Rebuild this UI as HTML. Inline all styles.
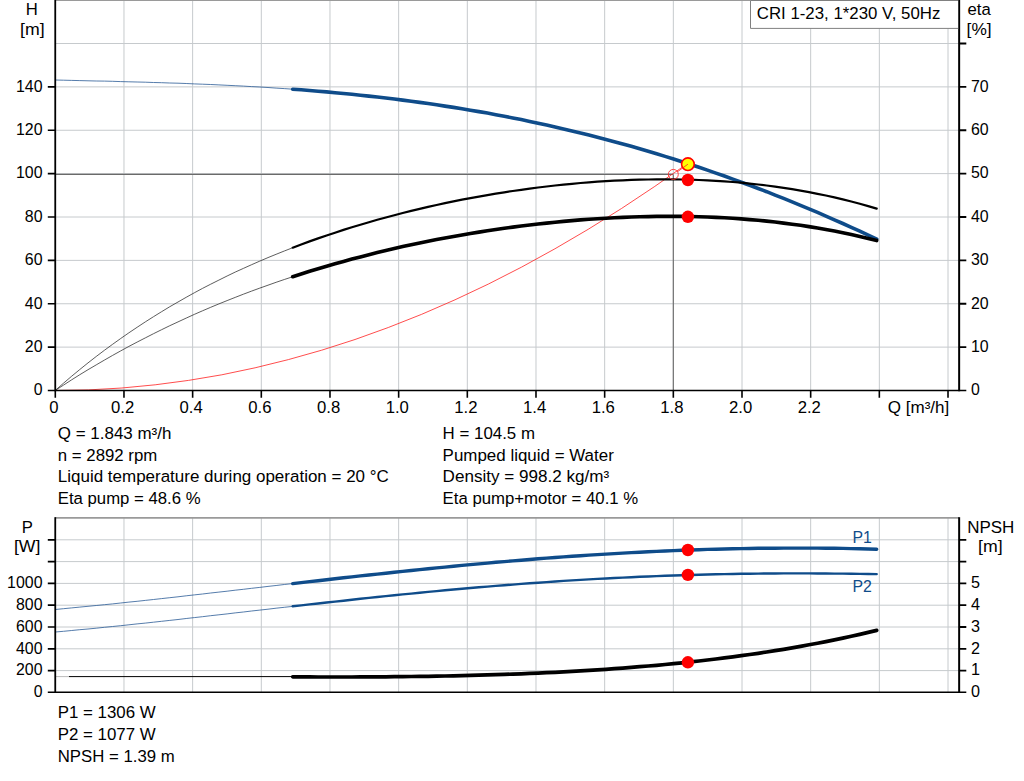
<!DOCTYPE html>
<html><head><meta charset="utf-8"><title>CRI 1-23</title>
<style>html,body{margin:0;padding:0;background:#fff;width:1024px;height:781px;overflow:hidden}
body{font-family:"Liberation Sans",sans-serif;position:relative}</style></head>
<body>
<svg width="1024" height="781" viewBox="0 0 1024 781" style="position:absolute;left:0;top:0" font-family="Liberation Sans, sans-serif" font-size="16.7" fill="#000">
<rect width="1024" height="781" fill="#fff"/>
<path d="M123.97 0V390M192.64 0V390M261.31 0V390M329.98 0V390M398.65 0V390M467.32 0V390M535.99 0V390M604.66 0V390M673.33 0V390M742.00 0V390M810.67 0V390M879.34 0V390M948.01 0V390M55 347.12H959M55 303.75H959M55 260.38H959M55 217.00H959M55 173.62H959M55 130.25H959M55 86.88H959M55 43.50H959" stroke="#c6cacd" stroke-width="1" fill="none"/>
<path d="M55 0.3H959" stroke="#9a9a9a" stroke-width="1.2"/>
<path d="M123.97 518V692M192.64 518V692M261.31 518V692M329.98 518V692M398.65 518V692M467.32 518V692M535.99 518V692M604.66 518V692M673.33 518V692M742.00 518V692M810.67 518V692M879.34 518V692M948.01 518V692M55 670.60H959M55 648.80H959M55 627.00H959M55 605.20H959M55 583.40H959M55 561.60H959M55 539.80H959" stroke="#c6cacd" stroke-width="1" fill="none"/>
<path d="M55 517.9H959" stroke="#9a9a9a" stroke-width="1.7"/>
<path d="M55 174.4H673.3M673.3 174.4V390" stroke="#6a6a6a" stroke-width="1.1" fill="none"/>
<path d="M55.3 80.0 L63.5 80.2 L71.7 80.4 L79.8 80.6 L88.0 80.8 L96.2 81.0 L104.4 81.1 L112.6 81.3 L120.7 81.6 L128.9 81.8 L137.1 82.0 L145.3 82.2 L153.5 82.5 L161.6 82.7 L169.8 83.0 L178.0 83.2 L186.2 83.5 L194.3 83.9 L202.5 84.2 L210.7 84.5 L218.9 84.9 L227.1 85.3 L235.2 85.7 L243.4 86.1 L251.6 86.6 L259.8 87.0 L268.0 87.5 L276.1 88.1 L284.3 88.6 L292.5 89.2" stroke="#2a5a96" stroke-width="0.8" fill="none"/>
<path d="M55.3 390.4 L63.5 383.2 L71.7 376.2 L79.8 369.5 L88.0 362.9 L96.2 356.5 L104.4 350.3 L112.6 344.3 L120.7 338.5 L128.9 332.8 L137.1 327.3 L145.3 321.9 L153.5 316.7 L161.6 311.7 L169.8 306.7 L178.0 302.0 L186.2 297.3 L194.3 292.8 L202.5 288.4 L210.7 284.2 L218.9 280.1 L227.1 276.0 L235.2 272.1 L243.4 268.4 L251.6 264.7 L259.8 261.1 L268.0 257.6 L276.1 254.3 L284.3 251.0 L292.5 247.8" stroke="#333" stroke-width="0.8" fill="none"/>
<path d="M55.3 390.4 L63.5 385.1 L71.7 379.8 L79.8 374.7 L88.0 369.7 L96.2 364.9 L104.4 360.1 L112.6 355.4 L120.7 350.9 L128.9 346.4 L137.1 342.1 L145.3 337.9 L153.5 333.7 L161.6 329.7 L169.8 325.7 L178.0 321.9 L186.2 318.1 L194.3 314.4 L202.5 310.8 L210.7 307.3 L218.9 303.9 L227.1 300.6 L235.2 297.4 L243.4 294.2 L251.6 291.1 L259.8 288.1 L268.0 285.2 L276.1 282.3 L284.3 279.5 L292.5 276.8" stroke="#333" stroke-width="0.8" fill="none"/>
<path d="M55.3 390.5 L88.6 389.9 L121.9 388.0 L155.2 384.8 L188.5 380.4 L221.8 374.8 L255.1 367.8 L288.4 359.6 L321.7 350.2 L355.0 339.5 L388.3 327.5 L421.7 314.3 L455.0 299.8 L488.3 284.1 L521.6 267.1 L554.9 248.8 L588.2 229.3 L621.5 208.5 L654.8 186.4 L688.1 163.1" stroke="#ff2020" stroke-width="0.8" fill="none"/>
<path d="M55.3 609.5 L63.5 608.7 L71.7 607.9 L79.8 607.1 L88.0 606.3 L96.2 605.5 L104.4 604.7 L112.6 603.9 L120.7 603.0 L128.9 602.1 L137.1 601.3 L145.3 600.4 L153.5 599.5 L161.6 598.6 L169.8 597.7 L178.0 596.8 L186.2 595.8 L194.3 594.9 L202.5 594.0 L210.7 593.0 L218.9 592.1 L227.1 591.2 L235.2 590.2 L243.4 589.3 L251.6 588.3 L259.8 587.4 L268.0 586.4 L276.1 585.5 L284.3 584.5 L292.5 583.6" stroke="#2a5a96" stroke-width="0.8" fill="none"/>
<path d="M55.3 632.0 L63.5 631.3 L71.7 630.5 L79.8 629.7 L88.0 629.0 L96.2 628.2 L104.4 627.3 L112.6 626.5 L120.7 625.7 L128.9 624.8 L137.1 623.9 L145.3 623.1 L153.5 622.2 L161.6 621.3 L169.8 620.4 L178.0 619.5 L186.2 618.5 L194.3 617.6 L202.5 616.7 L210.7 615.7 L218.9 614.8 L227.1 613.9 L235.2 612.9 L243.4 612.0 L251.6 611.0 L259.8 610.1 L268.0 609.2 L276.1 608.2 L284.3 607.3 L292.5 606.4" stroke="#2a5a96" stroke-width="0.8" fill="none"/>
<path d="M55 676.6H69" stroke="#bbb" stroke-width="1" fill="none"/>
<path d="M69 676.6H292" stroke="#000" stroke-width="1" fill="none"/>
<path d="M292.7 89.2 L301.2 89.8 L309.6 90.5 L318.1 91.2 L326.6 91.9 L335.0 92.7 L343.5 93.5 L351.9 94.3 L360.4 95.2 L368.9 96.1 L377.3 97.0 L385.8 98.0 L394.3 99.0 L402.7 100.1 L411.2 101.2 L419.7 102.4 L428.1 103.5 L436.6 104.8 L445.0 106.1 L453.5 107.4 L462.0 108.7 L470.4 110.2 L478.9 111.6 L487.4 113.1 L495.8 114.7 L504.3 116.3 L512.8 117.9 L521.2 119.6 L529.7 121.4 L538.1 123.2 L546.6 125.0 L555.1 126.9 L563.5 128.9 L572.0 130.9 L580.5 132.9 L588.9 135.0 L597.4 137.2 L605.9 139.4 L614.3 141.7 L622.8 144.0 L631.3 146.3 L639.7 148.8 L648.2 151.2 L656.6 153.8 L665.1 156.4 L673.6 159.0 L682.0 161.7 L690.5 164.5 L699.0 167.3 L707.4 170.1 L715.9 173.1 L724.4 176.0 L732.8 179.1 L741.3 182.2 L749.7 185.3 L758.2 188.5 L766.7 191.7 L775.1 195.1 L783.6 198.4 L792.1 201.8 L800.5 205.3 L809.0 208.8 L817.5 212.4 L825.9 216.1 L834.4 219.8 L842.8 223.5 L851.3 227.3 L859.8 231.2 L868.2 235.1 L876.7 239.1" stroke="#0f4c8a" stroke-width="3.6" fill="none" stroke-linecap="round"/>
<path d="M292.7 247.7 L301.2 244.5 L309.6 241.4 L318.1 238.4 L326.6 235.5 L335.0 232.7 L343.5 229.9 L351.9 227.3 L360.4 224.7 L368.9 222.2 L377.3 219.8 L385.8 217.5 L394.3 215.2 L402.7 213.0 L411.2 210.9 L419.7 208.9 L428.1 206.9 L436.6 205.0 L445.0 203.2 L453.5 201.4 L462.0 199.7 L470.4 198.1 L478.9 196.6 L487.4 195.1 L495.8 193.6 L504.3 192.3 L512.8 191.0 L521.2 189.8 L529.7 188.6 L538.1 187.5 L546.6 186.5 L555.1 185.5 L563.5 184.6 L572.0 183.8 L580.5 183.0 L588.9 182.3 L597.4 181.7 L605.9 181.2 L614.3 180.7 L622.8 180.3 L631.3 179.9 L639.7 179.7 L648.2 179.5 L656.6 179.4 L665.1 179.3 L673.6 179.4 L682.0 179.5 L690.5 179.7 L699.0 180.0 L707.4 180.4 L715.9 180.8 L724.4 181.4 L732.8 182.0 L741.3 182.7 L749.7 183.6 L758.2 184.5 L766.7 185.5 L775.1 186.6 L783.6 187.8 L792.1 189.2 L800.5 190.6 L809.0 192.1 L817.5 193.8 L825.9 195.5 L834.4 197.4 L842.8 199.4 L851.3 201.5 L859.8 203.7 L868.2 206.1 L876.7 208.6" stroke="#000" stroke-width="2.2" fill="none" stroke-linecap="round"/>
<path d="M292.7 276.7 L301.2 274.0 L309.6 271.3 L318.1 268.7 L326.6 266.2 L335.0 263.8 L343.5 261.4 L351.9 259.1 L360.4 256.9 L368.9 254.7 L377.3 252.6 L385.8 250.5 L394.3 248.6 L402.7 246.6 L411.2 244.8 L419.7 243.0 L428.1 241.2 L436.6 239.6 L445.0 238.0 L453.5 236.4 L462.0 234.9 L470.4 233.5 L478.9 232.1 L487.4 230.8 L495.8 229.5 L504.3 228.3 L512.8 227.1 L521.2 226.0 L529.7 225.0 L538.1 224.0 L546.6 223.1 L555.1 222.2 L563.5 221.4 L572.0 220.6 L580.5 219.9 L588.9 219.3 L597.4 218.7 L605.9 218.2 L614.3 217.8 L622.8 217.4 L631.3 217.0 L639.7 216.8 L648.2 216.6 L656.6 216.4 L665.1 216.4 L673.6 216.3 L682.0 216.4 L690.5 216.5 L699.0 216.8 L707.4 217.0 L715.9 217.4 L724.4 217.8 L732.8 218.3 L741.3 218.9 L749.7 219.6 L758.2 220.3 L766.7 221.1 L775.1 222.0 L783.6 223.1 L792.1 224.2 L800.5 225.3 L809.0 226.6 L817.5 228.0 L825.9 229.5 L834.4 231.1 L842.8 232.8 L851.3 234.6 L859.8 236.5 L868.2 238.5 L876.7 240.6" stroke="#000" stroke-width="3.6" fill="none" stroke-linecap="round"/>
<path d="M292.7 583.6 L301.2 582.6 L309.6 581.6 L318.1 580.7 L326.6 579.7 L335.0 578.8 L343.5 577.8 L351.9 576.9 L360.4 575.9 L368.9 575.0 L377.3 574.1 L385.8 573.2 L394.3 572.3 L402.7 571.4 L411.2 570.5 L419.7 569.6 L428.1 568.8 L436.6 567.9 L445.0 567.1 L453.5 566.2 L462.0 565.4 L470.4 564.6 L478.9 563.9 L487.4 563.1 L495.8 562.3 L504.3 561.6 L512.8 560.9 L521.2 560.2 L529.7 559.5 L538.1 558.8 L546.6 558.1 L555.1 557.5 L563.5 556.9 L572.0 556.3 L580.5 555.7 L588.9 555.1 L597.4 554.6 L605.9 554.1 L614.3 553.6 L622.8 553.1 L631.3 552.6 L639.7 552.2 L648.2 551.8 L656.6 551.4 L665.1 551.0 L673.6 550.6 L682.0 550.3 L690.5 550.0 L699.0 549.7 L707.4 549.4 L715.9 549.2 L724.4 549.0 L732.8 548.8 L741.3 548.6 L749.7 548.5 L758.2 548.3 L766.7 548.2 L775.1 548.2 L783.6 548.1 L792.1 548.1 L800.5 548.1 L809.0 548.1 L817.5 548.1 L825.9 548.2 L834.4 548.3 L842.8 548.4 L851.3 548.6 L859.8 548.8 L868.2 549.0 L876.7 549.2" stroke="#0f4c8a" stroke-width="3.4" fill="none" stroke-linecap="round"/>
<path d="M292.7 606.3 L301.2 605.4 L309.6 604.4 L318.1 603.5 L326.6 602.5 L335.0 601.6 L343.5 600.7 L351.9 599.7 L360.4 598.8 L368.9 597.9 L377.3 597.0 L385.8 596.1 L394.3 595.3 L402.7 594.4 L411.2 593.6 L419.7 592.7 L428.1 591.9 L436.6 591.1 L445.0 590.3 L453.5 589.5 L462.0 588.8 L470.4 588.0 L478.9 587.3 L487.4 586.6 L495.8 585.9 L504.3 585.2 L512.8 584.6 L521.2 583.9 L529.7 583.3 L538.1 582.7 L546.6 582.1 L555.1 581.5 L563.5 580.9 L572.0 580.4 L580.5 579.9 L588.9 579.4 L597.4 578.9 L605.9 578.5 L614.3 578.0 L622.8 577.6 L631.3 577.2 L639.7 576.8 L648.2 576.5 L656.6 576.1 L665.1 575.8 L673.6 575.5 L682.0 575.2 L690.5 575.0 L699.0 574.7 L707.4 574.5 L715.9 574.3 L724.4 574.1 L732.8 574.0 L741.3 573.8 L749.7 573.7 L758.2 573.6 L766.7 573.5 L775.1 573.5 L783.6 573.4 L792.1 573.4 L800.5 573.4 L809.0 573.4 L817.5 573.5 L825.9 573.5 L834.4 573.6 L842.8 573.6 L851.3 573.7 L859.8 573.9 L868.2 574.0 L876.7 574.1" stroke="#0f4c8a" stroke-width="2.4" fill="none" stroke-linecap="round"/>
<path d="M292.7 676.8 L301.2 676.9 L309.6 676.9 L318.1 677.0 L326.6 677.0 L335.0 677.0 L343.5 677.0 L351.9 677.0 L360.4 676.9 L368.9 676.9 L377.3 676.9 L385.8 676.8 L394.3 676.7 L402.7 676.6 L411.2 676.5 L419.7 676.4 L428.1 676.3 L436.6 676.1 L445.0 676.0 L453.5 675.8 L462.0 675.6 L470.4 675.4 L478.9 675.2 L487.4 674.9 L495.8 674.7 L504.3 674.4 L512.8 674.1 L521.2 673.8 L529.7 673.4 L538.1 673.1 L546.6 672.7 L555.1 672.3 L563.5 671.8 L572.0 671.4 L580.5 670.9 L588.9 670.4 L597.4 669.8 L605.9 669.3 L614.3 668.7 L622.8 668.1 L631.3 667.4 L639.7 666.7 L648.2 666.0 L656.6 665.3 L665.1 664.5 L673.6 663.7 L682.0 662.8 L690.5 661.9 L699.0 661.0 L707.4 660.0 L715.9 659.0 L724.4 657.9 L732.8 656.9 L741.3 655.7 L749.7 654.5 L758.2 653.3 L766.7 652.0 L775.1 650.7 L783.6 649.3 L792.1 647.9 L800.5 646.4 L809.0 644.8 L817.5 643.2 L825.9 641.6 L834.4 639.9 L842.8 638.1 L851.3 636.3 L859.8 634.4 L868.2 632.4 L876.7 630.4" stroke="#000" stroke-width="3.7" fill="none" stroke-linecap="round"/>
<path d="M47.8 347.12H55 M47.8 303.75H55 M47.8 260.38H55 M47.8 217.00H55 M47.8 173.62H55 M47.8 130.25H55 M47.8 86.88H55" stroke="#000" fill="none" stroke-width="1.7"/>
<path d="M55.25 0V391.2" stroke="#000" fill="none" stroke-width="1.8"/>
<path d="M47.8 390.50H966.3" stroke="#000" fill="none" stroke-width="1.5"/>
<path d="M959 347.12H966.3 M959 303.75H966.3 M959 260.38H966.3 M959 217.00H966.3 M959 173.62H966.3 M959 130.25H966.3 M959 86.88H966.3 M959 43.50H966.3" stroke="#000" fill="none" stroke-width="1.8"/>
<path d="M959.15 0V391.2" stroke="#000" fill="none" stroke-width="2"/>
<path d="M55.30 390V397.8 M123.97 390V397.8 M192.64 390V397.8 M261.31 390V397.8 M329.98 390V397.8 M398.65 390V397.8 M467.32 390V397.8 M535.99 390V397.8 M604.66 390V397.8 M673.33 390V397.8 M742.00 390V397.8 M810.67 390V397.8 M879.34 390V397.8 M948.01 390V397.8" stroke="#000" fill="none" stroke-width="1.6"/>
<path d="M47.8 670.60H55 M47.8 648.80H55 M47.8 627.00H55 M47.8 605.20H55 M47.8 583.40H55 M47.8 561.60H55 M47.8 539.80H55" stroke="#000" fill="none" stroke-width="1.7"/>
<path d="M55.25 517.2V692.6" stroke="#000" fill="none" stroke-width="1.8"/>
<path d="M47.8 692.30H966.3" stroke="#000" fill="none" stroke-width="1.5"/>
<path d="M959 670.60H966.3 M959 648.80H966.3 M959 627.00H966.3 M959 605.20H966.3 M959 583.40H966.3 M959 561.60H966.3 M959 539.80H966.3" stroke="#000" fill="none" stroke-width="1.8"/>
<path d="M959.15 517.2V692.8" stroke="#000" fill="none" stroke-width="2"/>
<circle cx="673.3" cy="174.4" r="5.0" fill="none" stroke="#ff3030" stroke-width="0.9"/>
<circle cx="687.9" cy="164.2" r="6.3" fill="#ffff00" stroke="#ff0000" stroke-width="1.6"/>
<path d="M677.3 171.9L687.9 164.2" stroke="#ff2020" stroke-width="0.8"/>
<circle cx="687.9" cy="180.0" r="6.2" fill="#ff0000"/>
<circle cx="687.9" cy="216.8" r="6.2" fill="#ff0000"/>
<circle cx="687.9" cy="550.0" r="6.2" fill="#ff0000"/>
<circle cx="687.9" cy="574.9" r="6.2" fill="#ff0000"/>
<circle cx="687.9" cy="662.3" r="6.2" fill="#ff0000"/>
<rect x="750.5" y="0.5" width="207.6" height="27.9" fill="#fff"/>
<path d="M958.2 0.5H750.5V28.4H958.2" fill="none" stroke="#808080" stroke-width="1"/>
<text x="756.8" y="18.8" textLength="183.5" lengthAdjust="spacingAndGlyphs">CRI 1-23, 1*230 V, 50Hz</text>
<text x="42.5" y="395.3" text-anchor="end" textLength="8.8" lengthAdjust="spacingAndGlyphs">0</text>
<text x="42.5" y="351.9" text-anchor="end" textLength="17.7" lengthAdjust="spacingAndGlyphs">20</text>
<text x="42.5" y="308.6" text-anchor="end" textLength="17.7" lengthAdjust="spacingAndGlyphs">40</text>
<text x="42.5" y="265.2" text-anchor="end" textLength="17.7" lengthAdjust="spacingAndGlyphs">60</text>
<text x="42.5" y="221.8" text-anchor="end" textLength="17.7" lengthAdjust="spacingAndGlyphs">80</text>
<text x="42.5" y="178.4" text-anchor="end" textLength="26.5" lengthAdjust="spacingAndGlyphs">100</text>
<text x="42.5" y="135.1" text-anchor="end" textLength="26.5" lengthAdjust="spacingAndGlyphs">120</text>
<text x="42.5" y="91.7" text-anchor="end" textLength="26.5" lengthAdjust="spacingAndGlyphs">140</text>
<text x="970.9" y="395.3" textLength="8.8" lengthAdjust="spacingAndGlyphs">0</text>
<text x="970.9" y="351.9" textLength="17.7" lengthAdjust="spacingAndGlyphs">10</text>
<text x="970.9" y="308.6" textLength="17.7" lengthAdjust="spacingAndGlyphs">20</text>
<text x="970.9" y="265.2" textLength="17.7" lengthAdjust="spacingAndGlyphs">30</text>
<text x="970.9" y="221.8" textLength="17.7" lengthAdjust="spacingAndGlyphs">40</text>
<text x="970.9" y="178.4" textLength="17.7" lengthAdjust="spacingAndGlyphs">50</text>
<text x="970.9" y="135.1" textLength="17.7" lengthAdjust="spacingAndGlyphs">60</text>
<text x="970.9" y="91.7" textLength="17.7" lengthAdjust="spacingAndGlyphs">70</text>
<text x="53.9" y="412.8" text-anchor="middle">0</text>
<text x="122.6" y="412.8" text-anchor="middle">0.2</text>
<text x="191.2" y="412.8" text-anchor="middle">0.4</text>
<text x="259.9" y="412.8" text-anchor="middle">0.6</text>
<text x="328.6" y="412.8" text-anchor="middle">0.8</text>
<text x="397.3" y="412.8" text-anchor="middle">1.0</text>
<text x="465.9" y="412.8" text-anchor="middle">1.2</text>
<text x="534.6" y="412.8" text-anchor="middle">1.4</text>
<text x="603.3" y="412.8" text-anchor="middle">1.6</text>
<text x="671.9" y="412.8" text-anchor="middle">1.8</text>
<text x="740.6" y="412.8" text-anchor="middle">2.0</text>
<text x="809.3" y="412.8" text-anchor="middle">2.2</text>

<text x="887.8" y="412.6" textLength="61.5" lengthAdjust="spacingAndGlyphs">Q [m³/h]</text>
<text x="31.7" y="14.6" text-anchor="middle">H</text>
<text x="32.3" y="34.8" text-anchor="middle" textLength="24.6" lengthAdjust="spacingAndGlyphs">[m]</text>
<text x="967.6" y="14.6">eta</text>
<text x="966.6" y="34.6" textLength="25.0" lengthAdjust="spacingAndGlyphs">[%]</text>
<text x="42.5" y="697.2" text-anchor="end" textLength="8.8" lengthAdjust="spacingAndGlyphs">0</text>
<text x="42.5" y="675.4" text-anchor="end" textLength="26.5" lengthAdjust="spacingAndGlyphs">200</text>
<text x="42.5" y="653.6" text-anchor="end" textLength="26.5" lengthAdjust="spacingAndGlyphs">400</text>
<text x="42.5" y="631.8" text-anchor="end" textLength="26.5" lengthAdjust="spacingAndGlyphs">600</text>
<text x="42.5" y="610.0" text-anchor="end" textLength="26.5" lengthAdjust="spacingAndGlyphs">800</text>
<text x="42.5" y="588.2" text-anchor="end" textLength="35.4" lengthAdjust="spacingAndGlyphs">1000</text>
<text x="970.9" y="697.2" textLength="9.0" lengthAdjust="spacingAndGlyphs">0</text>
<text x="970.9" y="675.4" textLength="9.0" lengthAdjust="spacingAndGlyphs">1</text>
<text x="970.9" y="653.6" textLength="9.0" lengthAdjust="spacingAndGlyphs">2</text>
<text x="970.9" y="631.8" textLength="9.0" lengthAdjust="spacingAndGlyphs">3</text>
<text x="970.9" y="610.0" textLength="9.0" lengthAdjust="spacingAndGlyphs">4</text>
<text x="970.9" y="588.2" textLength="9.0" lengthAdjust="spacingAndGlyphs">5</text>
<text x="27.3" y="532.8" text-anchor="middle">P</text>
<text x="27.2" y="551.7" text-anchor="middle" textLength="26.5" lengthAdjust="spacingAndGlyphs">[W]</text>
<text x="967.2" y="532.8" textLength="47.2" lengthAdjust="spacingAndGlyphs">NPSH</text>
<text x="990.3" y="551.7" text-anchor="middle" textLength="24.6" lengthAdjust="spacingAndGlyphs">[m]</text>
<text x="852.5" y="542.6" textLength="19.4" lengthAdjust="spacingAndGlyphs" fill="#0f4c8a">P1</text>
<text x="852.5" y="591.6" textLength="19.4" lengthAdjust="spacingAndGlyphs" fill="#0f4c8a">P2</text>
<text x="57.8" y="438.7" textLength="113.6" lengthAdjust="spacingAndGlyphs">Q = 1.843 m³/h</text>
<text x="442.6" y="438.7" textLength="92.4" lengthAdjust="spacingAndGlyphs">H = 104.5 m</text>
<text x="57.8" y="460.7" textLength="99.5" lengthAdjust="spacingAndGlyphs">n = 2892 rpm</text>
<text x="442.6" y="460.7" textLength="171.2" lengthAdjust="spacingAndGlyphs">Pumped liquid = Water</text>
<text x="57.8" y="481.9" textLength="331.0" lengthAdjust="spacingAndGlyphs">Liquid temperature during operation = 20 °C</text>
<text x="442.6" y="481.9" textLength="166.6" lengthAdjust="spacingAndGlyphs">Density = 998.2 kg/m³</text>
<text x="57.8" y="503.6" textLength="142.8" lengthAdjust="spacingAndGlyphs">Eta pump = 48.6 %</text>
<text x="442.6" y="503.6" textLength="195.6" lengthAdjust="spacingAndGlyphs">Eta pump+motor = 40.1 %</text>
<text x="57.7" y="718.4" textLength="98.0" lengthAdjust="spacingAndGlyphs">P1 = 1306 W</text>
<text x="57.7" y="740.0" textLength="98.0" lengthAdjust="spacingAndGlyphs">P2 = 1077 W</text>
<text x="57.7" y="761.6" textLength="117.0" lengthAdjust="spacingAndGlyphs">NPSH = 1.39 m</text>
</svg>
</body></html>
